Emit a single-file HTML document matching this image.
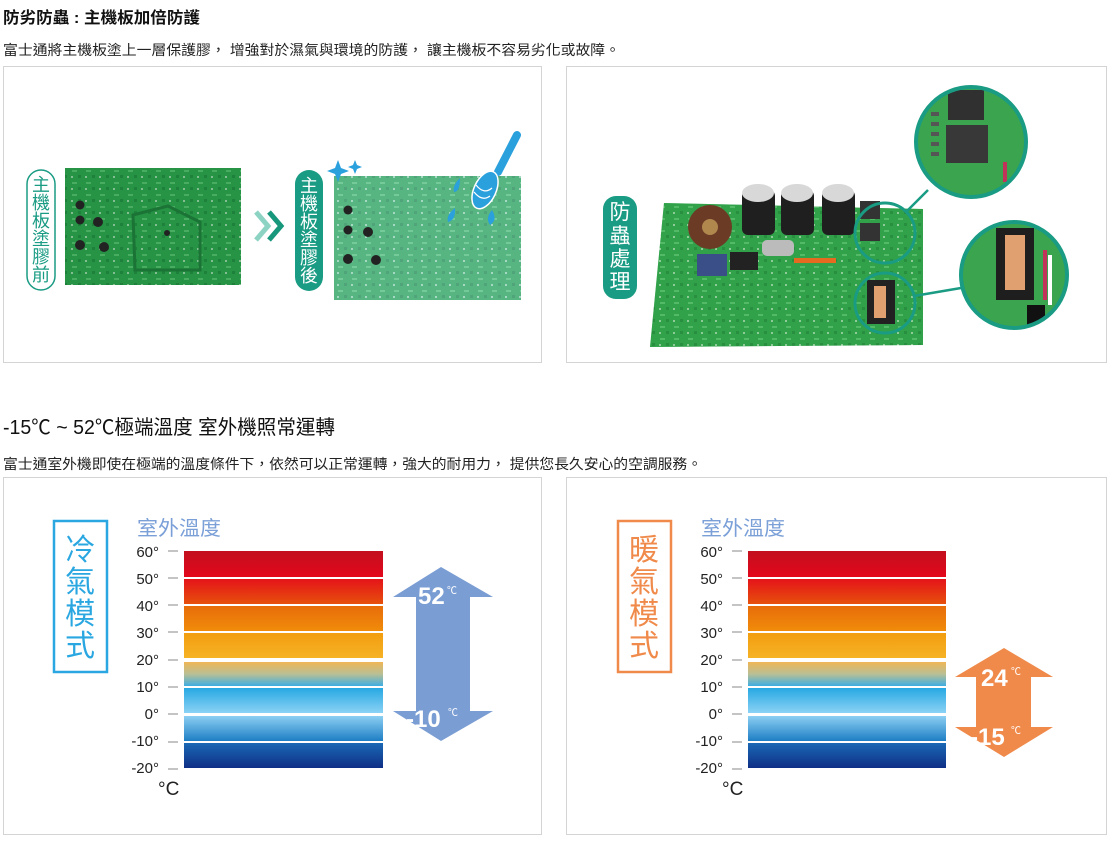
<!DOCTYPE html>
<html><head><meta charset="utf-8"><style>
html,body{margin:0;padding:0;background:#fff;}
svg{display:block;}
text{font-family:"Liberation Sans","Noto Sans CJK TC",sans-serif;}
</style></head><body>
<svg width="1109" height="844" viewBox="0 0 1109 844" xmlns="http://www.w3.org/2000/svg">
<defs>
<linearGradient id="b1" x1="0" y1="0" x2="0" y2="1"><stop offset="0" stop-color="#c2101f"/><stop offset="1" stop-color="#e3071b"/></linearGradient>
<linearGradient id="b2" x1="0" y1="0" x2="0" y2="1"><stop offset="0" stop-color="#e5141a"/><stop offset="1" stop-color="#e6500c"/></linearGradient>
<linearGradient id="b3" x1="0" y1="0" x2="0" y2="1"><stop offset="0" stop-color="#e86c0a"/><stop offset="1" stop-color="#f08c0a"/></linearGradient>
<linearGradient id="b4" x1="0" y1="0" x2="0" y2="1"><stop offset="0" stop-color="#f29e10"/><stop offset="1" stop-color="#f6b225"/></linearGradient>
<linearGradient id="b5" x1="0" y1="0" x2="0" y2="1"><stop offset="0" stop-color="#efb656"/><stop offset="0.5" stop-color="#b9bf94"/><stop offset="1" stop-color="#3eaee2"/></linearGradient>
<linearGradient id="b6" x1="0" y1="0" x2="0" y2="1"><stop offset="0" stop-color="#27a8e2"/><stop offset="1" stop-color="#8bd2f5"/></linearGradient>
<linearGradient id="b7" x1="0" y1="0" x2="0" y2="1"><stop offset="0" stop-color="#8ccff3"/><stop offset="1" stop-color="#1e7ec4"/></linearGradient>
<linearGradient id="b8" x1="0" y1="0" x2="0" y2="1"><stop offset="0" stop-color="#1a68b5"/><stop offset="1" stop-color="#0f2f86"/></linearGradient>
<pattern id="pcb" width="14" height="12" patternUnits="userSpaceOnUse">
<rect width="14" height="12" fill="#2a9a48"/><rect x="2" y="2" width="5" height="2" fill="#5fbf74"/><rect x="8" y="7" width="3" height="3" fill="#1d7d3a"/><rect x="1" y="8" width="2" height="2" fill="#b9d9bf"/></pattern>
<clipPath id="c1"><circle cx="971" cy="142" r="55"/></clipPath>
<clipPath id="c2"><circle cx="1014" cy="275" r="53"/></clipPath>
</defs>

<text x="3" y="23" font-size="16" font-weight="bold" fill="#111" textLength="197" lengthAdjust="spacingAndGlyphs">防劣防蟲 : 主機板加倍防護</text>
<text x="3" y="55" font-size="14" fill="#222" textLength="617" lengthAdjust="spacingAndGlyphs">富士通將主機板塗上一層保護膠， 增強對於濕氣與環境的防護， 讓主機板不容易劣化或故障。</text>

<rect x="3.5" y="66.5" width="538" height="296" fill="#fff" stroke="#d4d4d4"/>
<rect x="566.5" y="66.5" width="540" height="296" fill="#fff" stroke="#d4d4d4"/>

<rect x="27" y="170" width="28" height="120" rx="14" fill="#fff" stroke="#1a9b83" stroke-width="1.5"/>
<g font-size="18" fill="#1a9b83" text-anchor="middle">
<text x="41" y="191">主</text><text x="41" y="209">機</text><text x="41" y="227">板</text><text x="41" y="245">塗</text><text x="41" y="263">膠</text><text x="41" y="281">前</text></g>
<rect x="65" y="168" width="176" height="117" fill="url(#pcb)"/>
<rect x="65" y="168" width="176" height="117" fill="#1f8a40" opacity="0.35"/>
<g fill="#222"><circle cx="80" cy="205" r="4.5"/><circle cx="80" cy="220" r="4.5"/><circle cx="98" cy="222" r="5"/><circle cx="80" cy="245" r="5"/><circle cx="104" cy="247" r="5"/><circle cx="167" cy="233" r="3"/></g>
<path d="M133 215 L168 206 L200 222 L200 270 L135 270 Z" fill="none" stroke="#1b7436" stroke-width="3"/>
<path d="M256 212 L268 226 L256 240" fill="none" stroke="#8dd3c4" stroke-width="5"/>
<path d="M269 212 L281 226 L269 240" fill="none" stroke="#17977c" stroke-width="5"/>
<rect x="295" y="170" width="28" height="121" rx="14" fill="#1a9b83"/>
<g font-size="18" fill="#fff" text-anchor="middle">
<text x="309" y="192">主</text><text x="309" y="210">機</text><text x="309" y="228">板</text><text x="309" y="246">塗</text><text x="309" y="264">膠</text><text x="309" y="282">後</text></g>
<rect x="334" y="176" width="187" height="124" fill="url(#pcb)"/>
<rect x="334" y="176" width="187" height="124" fill="#8fd6c8" opacity="0.45"/>
<g fill="#222"><circle cx="348" cy="210" r="4.5"/><circle cx="348" cy="230" r="4.5"/><circle cx="368" cy="232" r="5"/><circle cx="348" cy="259" r="5"/><circle cx="376" cy="260" r="5"/></g>
<path d="M338 160 l3 8 l8 3 l-8 3 l-3 8 l-3 -8 l-8 -3 l8 -3 Z" fill="#2aa0dd"/>
<path d="M355 160 l2 5 l5 2 l-5 2 l-2 5 l-2 -5 l-5 -2 l5 -2 Z" fill="#2aa0dd"/>
<line x1="517" y1="135" x2="498" y2="172" stroke="#2aa0dd" stroke-width="8" stroke-linecap="round"/>
<ellipse cx="485" cy="190" rx="11" ry="20" transform="rotate(25 485 190)" fill="#2aa0dd" stroke="#fff" stroke-width="1.5"/>
<path d="M476 185 Q484 195 492 188 M474 192 Q482 202 490 196" stroke="#fff" fill="none" stroke-width="1.2"/>
<path d="M460 178 Q452 186 454 192 Q460 192 460 178Z M455 208 Q446 215 448 222 Q456 220 455 208Z M492 210 Q485 218 490 225 Q498 220 492 210Z" fill="#2aa0dd"/>

<rect x="603" y="196" width="34" height="103" rx="13" fill="#1a9b83"/>
<g font-size="21" fill="#fff" text-anchor="middle">
<text x="620" y="219">防</text><text x="620" y="243">蟲</text><text x="620" y="266">處</text><text x="620" y="289">理</text></g>
<path d="M664 203 L923 209 L923 345 L650 347 Z" fill="url(#pcb)"/>
<path d="M664 203 L923 209 L923 345 L650 347 Z" fill="#3fb24f" opacity="0.35"/>
<circle cx="710" cy="227" r="22" fill="#6b3b25"/><circle cx="710" cy="227" r="8" fill="#b0884e"/>
<rect x="742" y="190" width="33" height="45" rx="6" fill="#1f1f1f"/><ellipse cx="758" cy="193" rx="16" ry="9" fill="#d8d8d8"/>
<rect x="781" y="190" width="33" height="45" rx="6" fill="#1f1f1f"/><ellipse cx="797" cy="193" rx="16" ry="9" fill="#d8d8d8"/>
<rect x="822" y="190" width="33" height="45" rx="6" fill="#1f1f1f"/><ellipse cx="838" cy="193" rx="16" ry="9" fill="#d8d8d8"/>
<rect x="762" y="240" width="32" height="16" rx="5" fill="#bbb"/>
<rect x="697" y="254" width="30" height="22" fill="#3a4f88"/><rect x="730" y="252" width="28" height="18" fill="#222"/>
<rect x="794" y="258" width="42" height="5" fill="#e66a20"/>
<rect x="860" y="201" width="20" height="18" fill="#333"/><rect x="860" y="223" width="20" height="18" fill="#333"/>
<rect x="867" y="280" width="28" height="44" fill="#222"/><rect x="874" y="286" width="12" height="32" fill="#e0a070"/>
<circle cx="885" cy="233" r="30" fill="none" stroke="#1a9b83" stroke-width="3"/>
<circle cx="885" cy="303" r="30" fill="none" stroke="#1a9b83" stroke-width="3"/>
<line x1="906" y1="212" x2="928" y2="190" stroke="#1a9b83" stroke-width="2.5"/>
<line x1="914" y1="296" x2="961" y2="288" stroke="#1a9b83" stroke-width="2.5"/>
<g clip-path="url(#c1)"><rect x="910" y="85" width="125" height="115" fill="#3aa54e"/>
<rect x="948" y="90" width="36" height="30" fill="#303030"/><rect x="946" y="125" width="42" height="38" fill="#383838"/>
<g fill="#555"><rect x="931" y="112" width="8" height="4"/><rect x="931" y="122" width="8" height="4"/><rect x="931" y="132" width="8" height="4"/><rect x="931" y="142" width="8" height="4"/><rect x="931" y="152" width="8" height="4"/></g>
<rect x="1003" y="162" width="4" height="20" fill="#c2335a"/></g>
<circle cx="971" cy="142" r="55" fill="none" stroke="#1a9b83" stroke-width="4"/>
<g clip-path="url(#c2)"><rect x="955" y="218" width="120" height="115" fill="#3aa54e"/>
<rect x="996" y="228" width="38" height="72" fill="#1e1e1e"/><rect x="1005" y="235" width="20" height="55" fill="#e0a070"/>
<rect x="1043" y="250" width="4" height="50" fill="#c2335a"/><rect x="1048" y="255" width="4" height="50" fill="#fff"/>
<rect x="1027" y="305" width="18" height="30" fill="#111"/></g>
<circle cx="1014" cy="275" r="53" fill="none" stroke="#1a9b83" stroke-width="4"/>

<text x="3" y="434" font-size="20" fill="#111" textLength="332" lengthAdjust="spacingAndGlyphs">-15℃ ~ 52℃極端溫度 室外機照常運轉</text>
<text x="3" y="469" font-size="14" fill="#222" textLength="699" lengthAdjust="spacingAndGlyphs">富士通室外機即使在極端的溫度條件下，依然可以正常運轉，強大的耐用力， 提供您長久安心的空調服務。</text>

<rect x="3.5" y="477.5" width="538" height="357" fill="#fff" stroke="#d4d4d4"/>
<rect x="566.5" y="477.5" width="540" height="357" fill="#fff" stroke="#d4d4d4"/>

<g>
<rect x="54" y="521" width="53" height="151" fill="none" stroke="#2aa7e1" stroke-width="2.5"/>
<g font-size="30" fill="#2aa7e1" text-anchor="middle"><text x="80" y="560">冷</text><text x="80" y="592">氣</text><text x="80" y="624">模</text><text x="80" y="656">式</text></g>
<text x="137" y="535" font-size="20" fill="#7ba0d8" textLength="84" lengthAdjust="spacingAndGlyphs">室外溫度</text>
<g font-size="15" fill="#222" text-anchor="end">
<text x="159" y="557">60°</text><text x="159" y="584">50°</text><text x="159" y="611">40°</text><text x="159" y="638">30°</text><text x="159" y="665">20°</text><text x="159" y="692">10°</text><text x="159" y="719">0°</text><text x="159" y="746">-10°</text><text x="159" y="773">-20°</text></g>
<g stroke="#888" stroke-width="1"><line x1="168" y1="551" x2="178" y2="551"/><line x1="168" y1="578" x2="178" y2="578"/><line x1="168" y1="605" x2="178" y2="605"/><line x1="168" y1="632" x2="178" y2="632"/><line x1="168" y1="660" x2="178" y2="660"/><line x1="168" y1="687" x2="178" y2="687"/><line x1="168" y1="714" x2="178" y2="714"/><line x1="168" y1="742" x2="178" y2="742"/><line x1="168" y1="769" x2="178" y2="769"/></g>
<text x="158" y="795" font-size="19" fill="#222">°C</text>
<rect x="184" y="551" width="199" height="26" fill="url(#b1)"/>
<rect x="184" y="579" width="199" height="25" fill="url(#b2)"/>
<rect x="184" y="606" width="199" height="25" fill="url(#b3)"/>
<rect x="184" y="633" width="199" height="25" fill="url(#b4)"/>
<rect x="184" y="662" width="199" height="24" fill="url(#b5)"/>
<rect x="184" y="688" width="199" height="25" fill="url(#b6)"/>
<rect x="184" y="716" width="199" height="25" fill="url(#b7)"/>
<rect x="184" y="743" width="199" height="25" fill="url(#b8)"/>
</g>
<path d="M441 567 L493 597 L470 597 L470 711 L493 711 L441 741 L393 711 L416 711 L416 597 L393 597 Z" fill="#7a9dd3"/>
<text x="418" y="604" font-size="24" font-weight="bold" fill="#fff">52</text><text x="447" y="594" font-size="10" fill="#fff">℃</text>
<text x="406" y="727" font-size="24" font-weight="bold" fill="#fff">-10</text><text x="448" y="716" font-size="10" fill="#fff">℃</text>

<g transform="translate(564 0)">
<rect x="54" y="521" width="53" height="151" fill="none" stroke="#f08a4b" stroke-width="2.5"/>
<g font-size="30" fill="#f08a4b" text-anchor="middle"><text x="80" y="560">暖</text><text x="80" y="592">氣</text><text x="80" y="624">模</text><text x="80" y="656">式</text></g>
<text x="137" y="535" font-size="20" fill="#7ba0d8" textLength="84" lengthAdjust="spacingAndGlyphs">室外溫度</text>
<g font-size="15" fill="#222" text-anchor="end">
<text x="159" y="557">60°</text><text x="159" y="584">50°</text><text x="159" y="611">40°</text><text x="159" y="638">30°</text><text x="159" y="665">20°</text><text x="159" y="692">10°</text><text x="159" y="719">0°</text><text x="159" y="746">-10°</text><text x="159" y="773">-20°</text></g>
<g stroke="#888" stroke-width="1"><line x1="168" y1="551" x2="178" y2="551"/><line x1="168" y1="578" x2="178" y2="578"/><line x1="168" y1="605" x2="178" y2="605"/><line x1="168" y1="632" x2="178" y2="632"/><line x1="168" y1="660" x2="178" y2="660"/><line x1="168" y1="687" x2="178" y2="687"/><line x1="168" y1="714" x2="178" y2="714"/><line x1="168" y1="742" x2="178" y2="742"/><line x1="168" y1="769" x2="178" y2="769"/></g>
<text x="158" y="795" font-size="19" fill="#222">°C</text>
<rect x="184" y="551" width="198" height="26" fill="url(#b1)"/>
<rect x="184" y="579" width="198" height="25" fill="url(#b2)"/>
<rect x="184" y="606" width="198" height="25" fill="url(#b3)"/>
<rect x="184" y="633" width="198" height="25" fill="url(#b4)"/>
<rect x="184" y="662" width="198" height="24" fill="url(#b5)"/>
<rect x="184" y="688" width="198" height="25" fill="url(#b6)"/>
<rect x="184" y="716" width="198" height="25" fill="url(#b7)"/>
<rect x="184" y="743" width="198" height="25" fill="url(#b8)"/>
</g>
<path d="M1004 648 L1053 677 L1031 677 L1031 727 L1053 727 L1004 757 L955 727 L976 727 L976 677 L955 677 Z" fill="#f08a4b"/>
<text x="981" y="686" font-size="24" font-weight="bold" fill="#fff">24</text><text x="1011" y="675" font-size="10" fill="#fff">℃</text>
<text x="970" y="745" font-size="24" font-weight="bold" fill="#fff">-15</text><text x="1011" y="734" font-size="10" fill="#fff">℃</text>
</svg>
</body></html>
